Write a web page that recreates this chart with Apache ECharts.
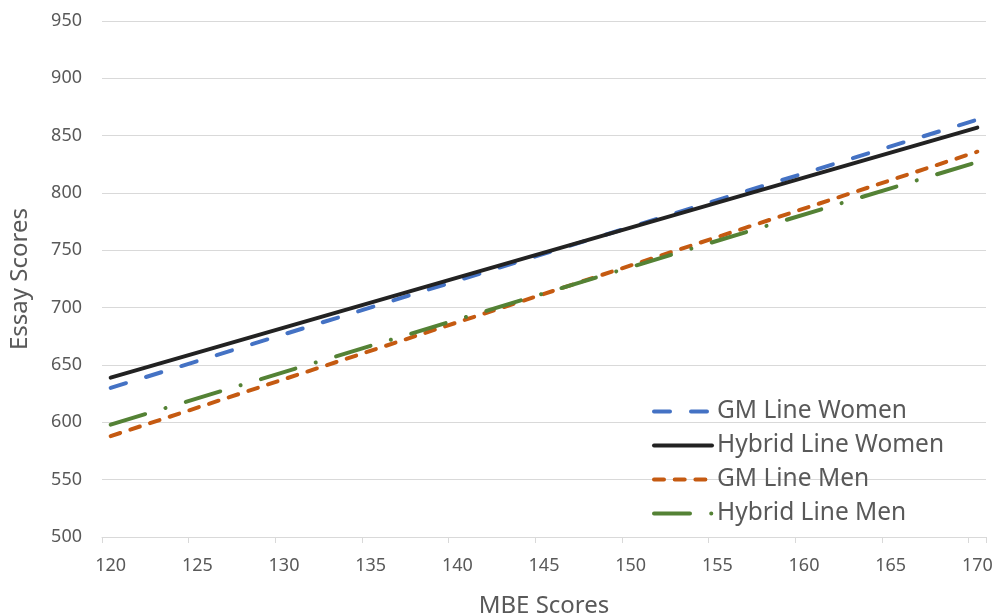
<!DOCTYPE html>
<html>
<head>
<meta charset="utf-8">
<script src="https://cdn.jsdelivr.net/npm/echarts@6/dist/echarts.min.js"></script>
<style>html,body{margin:0;padding:0;background:#fff;}#main{width:995px;height:616px;}</style>
</head>
<body>
<div id="main"></div>
<script>
const categories = ['120','121','122','123','124','125','126','127','128','129','130','131','132','133','134','135','136','137','138','139','140','141','142','143','144','145','146','147','148','149','150','151','152','153','154','155','156','157','158','159','160','161','162','163','164','165','166','167','168','169','170'];
const lineEnds = ['120', '170'];
const gmWomen = [630, 864];
const hybridWomen = [639, 857];
const gmMen = [588, 836];
const hybridMen = [598, 827];
const seriesNames = ['GM Line Women', 'Hybrid Line Women', 'GM Line Men', 'Hybrid Line Men'];

function pairs(vals) { return lineEnds.map((c, i) => [c, vals[i]]); }

const FONT = 'Noto Sans';
const GRAY = '#595959';
const CLEAR = 'rgba(0,0,0,0)';

function mkSeries(name, vals, color, dash) {
  return {
    name: name, type: 'line', data: pairs(vals),
    symbol: 'circle', showSymbol: false, symbolSize: 0,
    itemStyle: {color: CLEAR, borderWidth: 0},
    lineStyle: {color: color, width: 4, type: dash, cap: 'round'},
    emphasis: {disabled: true}
  };
}

const chart = echarts.init(document.getElementById('main'), null, {renderer: 'canvas'});
chart.setOption({
  animation: false,
  textStyle: {fontFamily: FONT},
  grid: {left: 102, right: 9, top: 21, bottom: 79, containLabel: false, outerBoundsMode: 'none'},
  legend: {
    orient: 'vertical',
    left: 647,
    top: 394,
    itemWidth: 58,
    itemHeight: 14,
    itemGap: 9,
    itemStyle: {color: CLEAR, borderWidth: 0, opacity: 0},
    lineStyle: {width: 4, cap: 'round'},
    textStyle: {fontFamily: FONT, fontSize: 24.5, color: GRAY},
    data: seriesNames
  },
  xAxis: {
    type: 'category',
    data: categories,
    boundaryGap: true,
    name: 'MBE Scores',
    nameLocation: 'middle',
    nameGap: 57,
    nameTextStyle: {fontFamily: FONT, fontSize: 24, color: GRAY},
    axisLine: {lineStyle: {color: '#d9d9d9', width: 1}},
    axisTick: {show: true, interval: 4, length: 6, lineStyle: {color: '#d9d9d9'}},
    axisLabel: {interval: 4, fontSize: 18, color: GRAY, margin: 20, fontFamily: FONT},
    splitLine: {show: false}
  },
  yAxis: {
    type: 'value',
    min: 500,
    max: 950,
    interval: 50,
    name: 'Essay Scores',
    nameLocation: 'middle',
    nameGap: 70,
    nameTextStyle: {fontFamily: FONT, fontSize: 24, color: GRAY},
    axisLine: {show: false},
    axisTick: {show: false},
    axisLabel: {fontSize: 18, color: GRAY, margin: 20, fontFamily: FONT},
    splitLine: {lineStyle: {color: '#d9d9d9', width: 1}}
  },
  series: [
    mkSeries(seriesNames[0], gmWomen, '#4472C4', [16, 21]),
    mkSeries(seriesNames[1], hybridWomen, '#222222', 'solid'),
    mkSeries(seriesNames[2], gmMen, '#C55A11', [10, 10.7]),
    mkSeries(seriesNames[3], hybridMen, '#548235', [36, 21.2, 0.1, 21.2])
  ]
});
</script>
</body>
</html>
